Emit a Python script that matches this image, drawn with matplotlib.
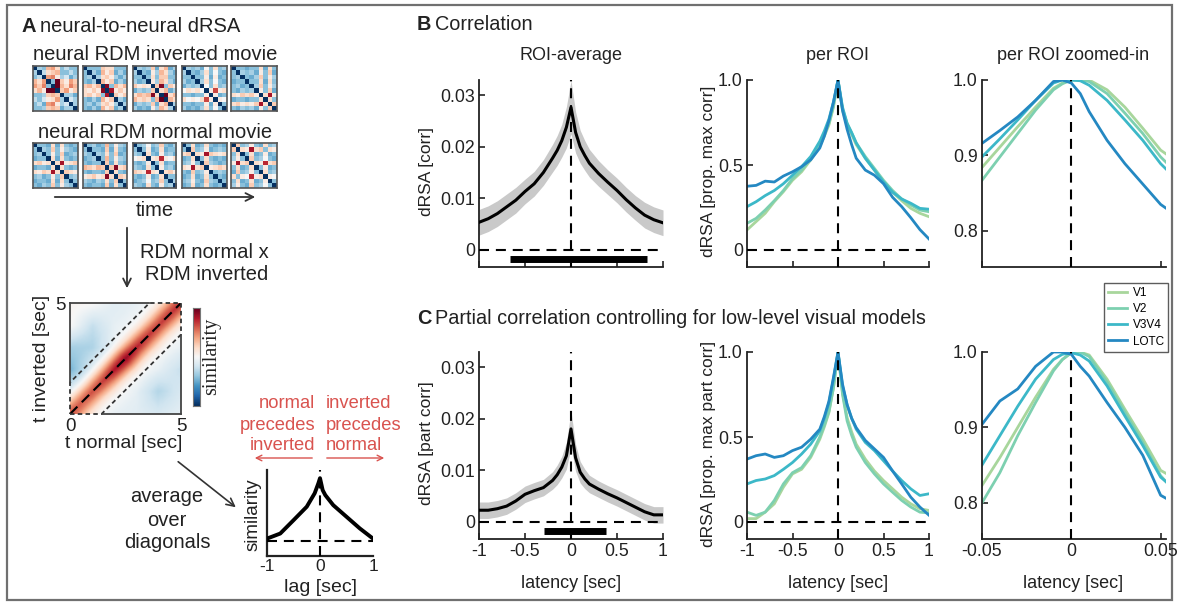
import numpy as np
import matplotlib.pyplot as plt
from matplotlib.colors import TwoSlopeNorm
from matplotlib.patches import Rectangle

W, H = 1177, 606
plt.rcParams['font.family'] = ['Liberation Sans', 'DejaVu Sans']
plt.rcParams['font.size'] = 12.5
plt.rcParams['axes.unicode_minus'] = False

# ---------------- data ----------------
latency = [-1, -0.9, -0.8, -0.7, -0.6, -0.5, -0.4, -0.3, -0.2, -0.15, -0.1, -0.05,
           0, 0.05, 0.1, 0.15, 0.2, 0.3, 0.4, 0.5, 0.6, 0.7, 0.8, 0.9, 1.0]

corr_mean = [0.0053, 0.0060, 0.0070, 0.0083, 0.0096, 0.0113, 0.0128, 0.0150, 0.0178, 0.0193, 0.0212, 0.0238,
             0.0277, 0.0228, 0.0200, 0.0183, 0.0168, 0.0148, 0.0131, 0.0115, 0.0097, 0.0081, 0.0067, 0.0058, 0.0052]
corr_err = [0.0025, 0.0025, 0.0025, 0.0025, 0.0025, 0.0024, 0.0024, 0.0025, 0.0027, 0.0029, 0.0032, 0.0040,
            0.0052, 0.0040, 0.0032, 0.0029, 0.0027, 0.0025, 0.0024, 0.0024, 0.0024, 0.0024, 0.0025, 0.0025, 0.0025]
part_mean = [0.0022, 0.0022, 0.0025, 0.0030, 0.0040, 0.0053, 0.0060, 0.0066, 0.0080, 0.0091, 0.0106, 0.0128,
             0.0180, 0.0124, 0.0096, 0.0083, 0.0073, 0.0063, 0.0054, 0.0046, 0.0037, 0.0028, 0.0019, 0.0013, 0.0013]
part_err = [0.0016, 0.0016, 0.0016, 0.0016, 0.0016, 0.0016, 0.0016, 0.0016, 0.0017, 0.0019, 0.0021, 0.0026,
            0.0035, 0.0026, 0.0021, 0.0019, 0.0017, 0.0016, 0.0016, 0.0016, 0.0016, 0.0016, 0.0016, 0.0016, 0.0016]

# significant clusters (start, end) and bar level
sig_corr = (-0.66, 0.83)
sig_part = (-0.29, 0.38)
sig_level = -0.0018

roi_names = ['V1', 'V2', 'V3V4', 'LOTC']
roi_colors = ['#a8d69c', '#7dd0b0', '#3cb8c8', '#2488c2']

roi_corr = [
    [0.118, 0.167, 0.216, 0.284, 0.343, 0.41, 0.46, 0.53, 0.61, 0.67, 0.735, 0.84,
     1.0, 0.82, 0.735, 0.68, 0.62, 0.54, 0.47, 0.40, 0.34, 0.29, 0.245, 0.216, 0.196],
    [0.157, 0.186, 0.235, 0.29, 0.35, 0.42, 0.47, 0.54, 0.62, 0.68, 0.745, 0.85,
     1.0, 0.83, 0.745, 0.69, 0.63, 0.55, 0.48, 0.41, 0.35, 0.30, 0.265, 0.235, 0.225],
    [0.255, 0.284, 0.32, 0.35, 0.39, 0.44, 0.49, 0.55, 0.64, 0.70, 0.77, 0.87,
     1.0, 0.84, 0.745, 0.69, 0.63, 0.54, 0.47, 0.40, 0.34, 0.30, 0.275, 0.245, 0.24],
    [0.375, 0.38, 0.405, 0.40, 0.435, 0.46, 0.49, 0.53, 0.60, 0.67, 0.76, 0.87,
     1.0, 0.82, 0.71, 0.62, 0.54, 0.47, 0.44, 0.39, 0.31, 0.255, 0.19, 0.12, 0.065],
]
roi_part = [
    [0.02, 0.02, 0.058, 0.107, 0.205, 0.283, 0.31, 0.38, 0.487, 0.56, 0.643, 0.79,
     1.0, 0.76, 0.614, 0.53, 0.458, 0.37, 0.30, 0.244, 0.195, 0.146, 0.107, 0.078, 0.068],
    [0.058, 0.039, 0.058, 0.127, 0.224, 0.29, 0.32, 0.39, 0.50, 0.57, 0.65, 0.79,
     1.0, 0.75, 0.595, 0.51, 0.44, 0.35, 0.283, 0.224, 0.175, 0.127, 0.088, 0.058, 0.053],
    [0.224, 0.244, 0.253, 0.273, 0.31, 0.35, 0.40, 0.458, 0.536, 0.61, 0.70, 0.84,
     1.0, 0.80, 0.69, 0.61, 0.546, 0.468, 0.42, 0.36, 0.30, 0.244, 0.195, 0.156, 0.166],
    [0.37, 0.39, 0.40, 0.38, 0.39, 0.42, 0.44, 0.487, 0.546, 0.62, 0.71, 0.85,
     1.0, 0.81, 0.69, 0.61, 0.555, 0.48, 0.43, 0.38, 0.30, 0.224, 0.146, 0.088, 0.04],
]

latency_zoom = [-0.05, -0.04, -0.03, -0.02, -0.01, -0.005, 0, 0.005, 0.01, 0.02, 0.03, 0.04, 0.05, 0.053]
roi_corr_zoom = [
    [0.884, 0.911, 0.938, 0.964, 0.989, 0.996, 1.0, 1.0, 1.0, 0.987, 0.964, 0.936, 0.907, 0.902],
    [0.867, 0.898, 0.929, 0.96, 0.987, 0.995, 1.0, 1.0, 0.998, 0.982, 0.956, 0.929, 0.898, 0.891],
    [0.898, 0.922, 0.947, 0.973, 0.996, 1.0, 1.0, 0.999, 0.993, 0.973, 0.947, 0.92, 0.889, 0.882],
    [0.916, 0.933, 0.951, 0.973, 0.998, 1.0, 0.996, 0.982, 0.958, 0.92, 0.889, 0.862, 0.835, 0.83],
]
roi_part_zoom = [
    [0.823, 0.86, 0.9, 0.94, 0.977, 0.99, 0.999, 1.0, 0.996, 0.964, 0.924, 0.885, 0.843, 0.839],
    [0.80, 0.84, 0.889, 0.933, 0.975, 0.99, 0.999, 1.0, 0.994, 0.96, 0.92, 0.88, 0.836, 0.828],
    [0.85, 0.889, 0.928, 0.964, 0.99, 0.997, 0.999, 0.996, 0.988, 0.955, 0.915, 0.876, 0.834, 0.828],
    [0.904, 0.935, 0.951, 0.981, 1.0, 1.0, 0.997, 0.981, 0.968, 0.933, 0.90, 0.863, 0.81, 0.806],
]

# schematic lag profile (panel A inset)
lag = [-1, -0.75, -0.5, -0.25, -0.1, -0.03, 0, 0.05, 0.1, 0.25, 0.5, 0.75, 1]
lag_sim = [0.037, 0.118, 0.33, 0.545, 0.76, 0.92, 1.0, 0.81, 0.73, 0.57, 0.385, 0.2, 0.037]

# feature vectors behind the little RDM thumbnails
inv_feat = [
    [0.45, 0.55, 0.40, 0.95, 1.00, 0.05, 0.50, 0.60, 0.40, 0.50],
    [0.50, 0.45, 0.55, 0.45, 0.95, 0.10, 0.90, 0.45, 0.55, 0.45],
    [0.45, 0.55, 0.50, 0.55, 0.90, 0.45, 0.05, 0.95, 0.45, 0.55],
    [0.55, 0.45, 0.50, 0.45, 0.55, 0.85, 0.50, 0.15, 0.50, 0.45],
    [0.50, 0.55, 0.45, 0.50, 0.45, 0.55, 0.90, 0.50, 0.10, 0.55],
]
nor_feat = [
    [0.50, 0.45, 0.55, 0.50, 0.90, 0.50, 0.10, 0.55, 0.50, 0.45],
    [0.45, 0.50, 0.55, 0.45, 0.50, 0.95, 0.50, 0.10, 0.55, 0.50],
    [0.55, 0.50, 0.45, 0.85, 0.50, 0.45, 0.10, 0.50, 0.55, 0.45],
    [0.50, 0.55, 0.10, 0.50, 0.45, 0.90, 0.55, 0.50, 0.45, 0.50],
    [0.45, 0.90, 0.50, 0.55, 0.10, 0.50, 0.45, 0.85, 0.50, 0.55],
]

# similarity matrix t_normal x t_inverted
band_lag = [0, 0.3, 0.6, 0.9, 1.2, 1.6, 2.2, 3.0, 5.0]
band_val = [1.0, 0.8, 0.5, 0.22, 0.06, 0.0, -0.04, -0.06, -0.04]
diag_pos = [0, 1, 2, 2.5, 3, 4, 5]
diag_gain = [0.7, 0.75, 0.95, 1.05, 0.9, 0.8, 0.85]
bg_coarse = [
    [0.05, 0.02, -0.05, -0.05, -0.10, -0.05],
    [-0.15, 0.00, 0.00, -0.05, -0.20, -0.10],
    [-0.40, -0.15, 0.00, 0.00, -0.05, -0.15],
    [-0.25, -0.25, -0.10, 0.00, 0.00, -0.05],
    [0.05, -0.15, -0.05, -0.05, 0.00, 0.00],
    [0.08, 0.05, -0.05, -0.05, 0.00, 0.00],
]
band_halfwidth = 1.42

# ---------------- figure ----------------
fig = plt.figure(figsize=(W / 100, H / 100), dpi=100)

ov = fig.add_axes([0, 0, 1, 1])
ov.set_xlim(0, W)
ov.set_ylim(H, 0)
ov.axis('off')
ov.add_patch(Rectangle((7, 5), 1165, 595, fill=False, edgecolor='#707070', lw=1.6))


def box(x0, y0, x1, y1):
    return fig.add_axes([x0 / W, 1 - y1 / H, (x1 - x0) / W, (y1 - y0) / H])


def txt(x, y, s, **kw):
    kw.setdefault('ha', 'center')
    kw.setdefault('va', 'center')
    kw.setdefault('color', '#222222')
    ov.text(x, y, s, **kw)


def style(ax, xlim, ylim, xticks, yticks, ylabels, xlabels=None):
    ax.set_xlim(xlim)
    ax.set_ylim(ylim)
    for s in ['top', 'right']:
        ax.spines[s].set_visible(False)
    for s in ['left', 'bottom']:
        ax.spines[s].set_linewidth(1.3)
        ax.spines[s].set_color('#222222')
    ax.set_xticks(xticks)
    ax.set_yticks(yticks)
    ax.set_yticklabels(ylabels)
    ax.set_xticklabels(xlabels if xlabels is not None else [])
    ax.tick_params(direction='in', length=4, width=1.2, pad=3, labelsize=12.8,
                   colors='#222222')
    ax.patch.set_alpha(0)


def dash_h(ax, y):
    ax.axhline(y, color='black', lw=1.5, dashes=(4.8, 3.3), zorder=4)


def dash_v(ax, x):
    ax.axvline(x, color='black', lw=1.5, dashes=(4.8, 3.3), zorder=4)


lat = np.array(latency)
latz = np.array(latency_zoom)
FA = 14.5

# ---- panel A ----
txt(21, 26, 'A', ha='left', fontweight='bold', fontsize=FA)
txt(40, 26, 'neural-to-neural dRSA', ha='left', fontsize=FA)
txt(155, 55, 'neural RDM inverted movie', fontsize=FA)
txt(155, 132, 'neural RDM normal movie', fontsize=FA)

thumb_x = [(33, 78), (83, 127), (133, 176), (182, 227), (231, 277)]
for feats, (y0, y1) in [(inv_feat, (66, 111)), (nor_feat, (143, 188))]:
    for f, (x0, x1) in zip(feats, thumb_x):
        f = np.array(f)
        rdm = np.abs(f[:, None] - f[None, :])
        np.fill_diagonal(rdm, -0.3)
        a = box(x0, y0, x1, y1)
        a.imshow(rdm, cmap='RdBu_r', vmin=-0.3, vmax=0.9, interpolation='nearest', aspect='auto')
        a.set_xticks([])
        a.set_yticks([])
        for s in a.spines.values():
            s.set_color('#555555')
            s.set_linewidth(1.2)

ov.annotate('', xy=(258, 197), xytext=(52, 197),
            arrowprops=dict(arrowstyle='->', lw=1.3, color='#333333', mutation_scale=14))
txt(155, 211, 'time', fontsize=FA)
ov.annotate('', xy=(127, 291), xytext=(127, 225),
            arrowprops=dict(arrowstyle='->', lw=1.3, color='#333333', mutation_scale=14))
txt(204, 252, 'RDM normal x', fontsize=FA)
txt(207, 275, 'RDM inverted', fontsize=FA)

# similarity matrix
t = np.linspace(0, 5, 80)
tn, ti = np.meshgrid(t, t)
band = np.interp(np.abs(tn - ti), band_lag, band_val)
gain = np.interp((tn + ti) / 2, diag_pos, diag_gain)
bgc = np.array(bg_coarse)
tc = np.arange(bgc.shape[0])
tmp = np.array([np.interp(t, tc, row) for row in bgc])
bgf = np.array([np.interp(t, tc, tmp[:, j]) for j in range(len(t))]).T
sim = gain * band + bgf

am = box(70, 303, 181, 414)
am.imshow(sim, origin='lower', extent=[0, 5, 0, 5], cmap='RdBu_r',
          norm=TwoSlopeNorm(vmin=-0.9, vcenter=0, vmax=1.15), interpolation='bilinear', aspect='auto')
w = band_halfwidth
am.plot([0, w, 5, 5, 5 - w, 0, 0], [0, 0, 5 - w, 5, 5, w, 0], color='#333333', lw=1.3,
        dashes=(2.5, 1.8), clip_on=False, zorder=4)
# solid frame outside the band region
for xs, ys in [([0, 0], [w, 5]), ([0, 5 - w], [5, 5]), ([5, 5], [0, 5 - w]), ([w, 5], [0, 0])]:
    am.plot(xs, ys, color='#444444', lw=1.3, clip_on=False, zorder=4, solid_capstyle='projecting')
am.plot([0, 5], [0, 5], color='black', lw=1.5, dashes=(5, 3))
am.set_xlim(0, 5)
am.set_ylim(0, 5)
am.set_xticks([0, 5])
am.set_xticklabels(['0', '5'])
am.set_yticks([5])
am.set_yticklabels(['5'])
am.tick_params(length=0, pad=3, labelsize=13.5, colors='#222222')
for s in am.spines.values():
    s.set_visible(False)
txt(42, 358, 't inverted [sec]', rotation=90, fontsize=14)
txt(124, 443, 't normal [sec]', fontsize=14)

cb = box(193, 308, 200, 406)
cb.imshow(np.linspace(1, 0, 100)[:, None], cmap='RdBu_r', aspect='auto')
cb.set_xticks([])
cb.set_yticks([])
for s in cb.spines.values():
    s.set_linewidth(0.8)
    s.set_color('#777777')
txt(212, 356, 'similarity', rotation=90, family=['Liberation Serif', 'DejaVu Serif'], fontsize=14.5)

ov.annotate('', xy=(238, 509), xytext=(176, 460),
            arrowprops=dict(arrowstyle='->', lw=1.2, color='#333333', mutation_scale=14))
for yy, s in zip([497, 520, 543], ['average', 'over', 'diagonals']):
    txt(167, yy, s, fontsize=FA)

red = '#d9534f'
for yy, s in zip([404, 425, 445], ['normal', 'precedes', 'inverted']):
    txt(315, yy, s, ha='right', color=red, fontsize=13.2)
for yy, s in zip([404, 425, 445], ['inverted', 'precedes', 'normal']):
    txt(326, yy, s, ha='left', color=red, fontsize=13.2)
ov.annotate('', xy=(252, 458), xytext=(315, 458),
            arrowprops=dict(arrowstyle='->', lw=1.0, color=red, mutation_scale=10))
ov.annotate('', xy=(387, 458), xytext=(324, 458),
            arrowprops=dict(arrowstyle='->', lw=1.0, color=red, mutation_scale=10))

al = box(267, 470, 373, 556)
al.plot(lag, lag_sim, color='black', lw=2.8, zorder=3)
dash_h(al, 0)
dash_v(al, 0)
style(al, (-1, 1), (-0.24, 1.13), [-1, 0, 1], [], [], ['-1', '0', '1'])
al.tick_params(length=0, labelsize=12.5, pad=2)
for s in ['left', 'bottom']:
    al.spines[s].set_linewidth(1.6)
txt(253, 515, 'similarity', rotation=90, fontsize=13.5)
txt(320, 588, 'lag [sec]', fontsize=14)

# ---- panels B and C ----
FH = 14.3
txt(417, 25, 'B', ha='left', fontweight='bold', fontsize=FH)
txt(435, 25, 'Correlation', ha='left', fontsize=FH)
txt(417, 318, 'C', ha='left', fontweight='bold', fontsize=FH)
txt(435, 318, 'Partial correlation controlling for low-level visual models', ha='left', fontsize=FH)

txt(571, 55, 'ROI-average', fontsize=13)
txt(838, 55, 'per ROI', fontsize=13)
txt(1073, 55, 'per ROI zoomed-in', fontsize=13)

lat_ticks = [-1, -0.5, 0, 0.5, 1]
lat_labels = ['-1', '-0.5', '0', '0.5', '1']

rows = [
    (80, 267, corr_mean, corr_err, sig_corr, roi_corr, roi_corr_zoom,
     'dRSA [corr]', 'dRSA [prop. max corr]', False),
    (352, 539, part_mean, part_err, sig_part, roi_part, roi_part_zoom,
     'dRSA [part corr]', 'dRSA [prop. max part corr]', True),
]

handles = []
for y0, y1, mean, err, sig, roi, roi_zoom, lab1, lab2, bottom in rows:
    mean = np.array(mean)
    err = np.array(err)
    a1 = box(479, y0, 663, y1)
    a1.fill_between(lat, mean - err, mean + err, color='#c9c9c9', lw=0, zorder=1)
    a1.plot(lat, mean, color='black', lw=2.2, zorder=3)
    a1.plot(sig, [sig_level, sig_level], color='black', lw=5, solid_capstyle='butt', zorder=3)
    dash_h(a1, 0)
    dash_v(a1, 0)
    style(a1, (-1, 1), (-0.0034, 0.033), lat_ticks, [0, 0.01, 0.02, 0.03],
          ['0', '0.01', '0.02', '0.03'], lat_labels if bottom else None)
    txt(427, (y0 + y1) / 2 - 2, lab1, rotation=90)

    a2 = box(747, y0, 929, y1)
    for vals, c in zip(roi, roi_colors):
        a2.plot(lat, vals, color=c, lw=2.0, zorder=2)
    dash_h(a2, 0)
    dash_v(a2, 0)
    style(a2, (-1, 1), (-0.1, 1.0), lat_ticks, [0, 0.5, 1.0], ['0', '0.5', '1.0'],
          lat_labels if bottom else None)
    txt(708, (y0 + y1) / 2 - 2, lab2, rotation=90)

    a3 = box(982, y0, 1166, y1)
    lines = []
    for vals, c, n in zip(roi_zoom, roi_colors, roi_names):
        ln, = a3.plot(latz, vals, color=c, lw=2.0, zorder=2, label=n)
        lines.append(ln)
    dash_v(a3, 0)
    style(a3, (-0.05, 0.053), (0.752, 1.0), [-0.05, 0, 0.05], [0.8, 0.9, 1.0],
          ['0.8', '0.9', '1.0'], ['-0.05', '0', '0.05'] if bottom else None)
    handles = lines

    if bottom:
        for xc in [571, 838, 1073]:
            txt(xc, 583, 'latency [sec]', fontsize=13)

fig.legend(handles, roi_names, loc='upper right', bbox_to_anchor=(1168 / W, 1 - 283 / H),
           fontsize=8.5, frameon=True, fancybox=False, edgecolor='#333333',
           handlelength=1.6, labelspacing=0.35, borderpad=0.35, handletextpad=0.5,
           borderaxespad=0)

fig.savefig('out.png', dpi=100)
